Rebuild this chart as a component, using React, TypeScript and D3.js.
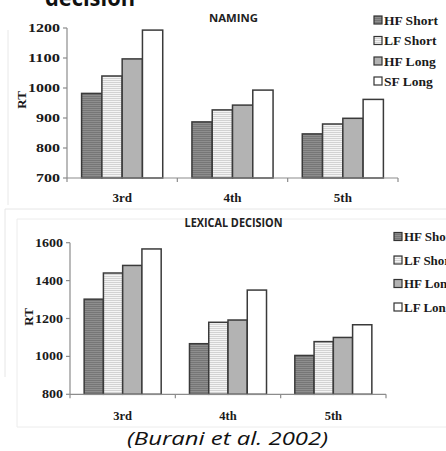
import React from "react";
import * as d3 from "d3";

const categories = ["3rd", "4th", "5th"];

const namingLegend = ["HF Short", "LF Short", "HF Long", "SF Long"];
const namingHFShort = [982, 887, 847];
const namingLFShort = [1040, 927, 880];
const namingHFLong = [1097, 943, 899];
const namingSFLong = [1193, 993, 962];
const namingTicks = [700, 800, 900, 1000, 1100, 1200];

const lexLegend = ["HF Short", "LF Short", "HF Long", "LF Long"];
const lexHFShort = [1302, 1067, 1005];
const lexLFShort = [1440, 1180, 1078];
const lexHFLong = [1480, 1192, 1100];
const lexLFLong = [1567, 1350, 1167];
const lexTicks = [800, 1000, 1200, 1400, 1600];

const fills = ["url(#pDark)", "url(#pLight)", "#b3b3b3", "#ffffff"];
const SERIF = "'Liberation Serif', 'Times New Roman', serif";
const SANS = "'Open Sans', 'Noto Sans', sans-serif";

type PanelProps = {
  title: string;
  titleY: number;
  titleLen: number;
  titleSize: number;
  series: number[][];
  legend: string[];
  ticks: number[];
  xRange: [number, number];
  yRange: [number, number];
  tickLen: number;
  tickFont: number;
  xLabelY: number;
  xLabelSize: number;
  outerPad: number;
  rtX: number;
  rtY: number;
  legX: number;
  legY: number[];
  legSize: number;
};

function Panel(p: PanelProps) {
  const x0 = d3.scaleBand<string>().domain(categories).range(p.xRange).paddingInner(0).paddingOuter(0);
  const keys = p.series.map((_, i) => String(i));
  const x1 = d3.scaleBand<string>().domain(keys).range([0, x0.bandwidth()]).paddingInner(0).paddingOuter(p.outerPad);
  const y = d3.scaleLinear().domain([p.ticks[0], p.ticks[p.ticks.length - 1]]).range(p.yRange);
  const axisColor = "#8c8c8c";
  const yBase = y(p.ticks[0]);
  return (
    <g>
      <text x={233.5} y={p.titleY} textAnchor="middle" fontFamily={SANS} fontWeight={700} fontSize={p.titleSize} textLength={p.titleLen} lengthAdjust="spacingAndGlyphs" fill="#222">{p.title}</text>
      {p.series.map((vals, si) =>
        categories.map((c, ci) => {
          const bx = (x0(c) ?? 0) + (x1(String(si)) ?? 0);
          const by = y(vals[ci]);
          return (
            <rect key={`${si}-${ci}`} x={bx} y={by} width={x1.bandwidth()} height={yBase - by} fill={fills[si]} stroke="#3a3a3a" strokeWidth={1.5} />
          );
        })
      )}
      <line x1={p.xRange[0]} x2={p.xRange[0]} y1={y(p.ticks[p.ticks.length - 1])} y2={yBase} stroke={axisColor} strokeWidth={1.2} />
      {p.ticks.map((t) => (
        <g key={t}>
          <line x1={p.xRange[0] - 4} x2={p.xRange[0]} y1={y(t)} y2={y(t)} stroke={axisColor} strokeWidth={1.2} />
          <text x={p.xRange[0] - 7} y={y(t) + 4} textAnchor="end" fontFamily={SERIF} fontWeight={700} fontSize={p.tickFont} textLength={p.tickLen * String(t).length / 4} lengthAdjust="spacingAndGlyphs" fill="#1a1a1a">{t}</text>
        </g>
      ))}
      <line x1={p.xRange[0]} x2={p.xRange[1]} y1={yBase} y2={yBase} stroke={axisColor} strokeWidth={1.2} />
      {[...categories.map((c) => x0(c) ?? 0), p.xRange[1]].map((tx, i) => (
        <line key={i} x1={tx} x2={tx} y1={yBase} y2={yBase + 4} stroke={axisColor} strokeWidth={1.2} />
      ))}
      {categories.map((c) => (
        <text key={c} x={(x0(c) ?? 0) + x0.bandwidth() / 2} y={p.xLabelY} textAnchor="middle" fontFamily={SERIF} fontWeight={700} fontSize={p.xLabelSize} fill="#1a1a1a">{c}</text>
      ))}
      <text transform={`translate(${p.rtX},${p.rtY}) rotate(-90)`} textAnchor="middle" fontFamily={SERIF} fontWeight={700} fontSize={13} fill="#1a1a1a">RT</text>
      {p.legend.map((l, i) => (
        <g key={l}>
          <rect x={p.legX} y={p.legY[i] - 8.5} width={8} height={8} fill={fills[i]} stroke="#333" strokeWidth={1.2} />
          <text x={p.legX + 10} y={p.legY[i]} fontFamily={SERIF} fontWeight={700} fontSize={p.legSize} fill="#1a1a1a">{l}</text>
        </g>
      ))}
    </g>
  );
}

export default function App() {
  return (
    <svg width={446} height={451} style={{ position: "absolute", left: 0, top: 0, background: "#fff" }}>
      <defs>
        <pattern id="pDark" width={4} height={2} patternUnits="userSpaceOnUse">
          <rect width={4} height={2} fill="#8e8e8e" />
          <rect width={4} height={1} fill="#767676" />
        </pattern>
        <pattern id="pLight" width={4} height={2} patternUnits="userSpaceOnUse">
          <rect width={4} height={2} fill="#f4f4f4" />
          <rect width={4} height={1} fill="#d2d2d2" />
        </pattern>
      </defs>
      <rect x={0} y={0} width={446} height={451} fill="#fff" />
      <path d="M8,30 V205" stroke="#e8e8e8" fill="none" />
      <path d="M5,377 V209 H446" stroke="#e6e6e6" fill="none" />
      <path d="M446,219 H17 V427 H446" stroke="#ececec" fill="none" />
      <text x={45} y={6} fontFamily={SANS} fontWeight={700} fontSize={24} textLength={90} lengthAdjust="spacingAndGlyphs" fill="#111">decision</text>
      <Panel
        title="NAMING" titleY={22} titleLen={49} titleSize={11}
        series={[namingHFShort, namingLFShort, namingHFLong, namingSFLong]}
        legend={namingLegend} ticks={namingTicks}
        xRange={[67, 398]} yRange={[178, 28]}
        tickLen={32} tickFont={12}
        xLabelY={202} xLabelSize={13} outerPad={0.72}
        rtX={26} rtY={100}
        legX={374} legY={[24.5, 45, 65.5, 85.5]} legSize={13.5}
      />
      <Panel
        title="LEXICAL DECISION" titleY={227} titleLen={98} titleSize={12}
        series={[lexHFShort, lexLFShort, lexHFLong, lexLFLong]}
        legend={lexLegend} ticks={lexTicks}
        xRange={[70, 386]} yRange={[394.3, 242.7]}
        tickLen={28} tickFont={12}
        xLabelY={420} xLabelSize={12.5} outerPad={0.735}
        rtX={33} rtY={317}
        legX={394} legY={[241, 264.5, 288, 311.5]} legSize={13}
      />
      <text x={227.5} y={445} textAnchor="middle" fontFamily={SANS} fontStyle="italic" fontSize={18} textLength={201} lengthAdjust="spacingAndGlyphs" fill="#111">(Burani et al. 2002)</text>
    </svg>
  );
}
